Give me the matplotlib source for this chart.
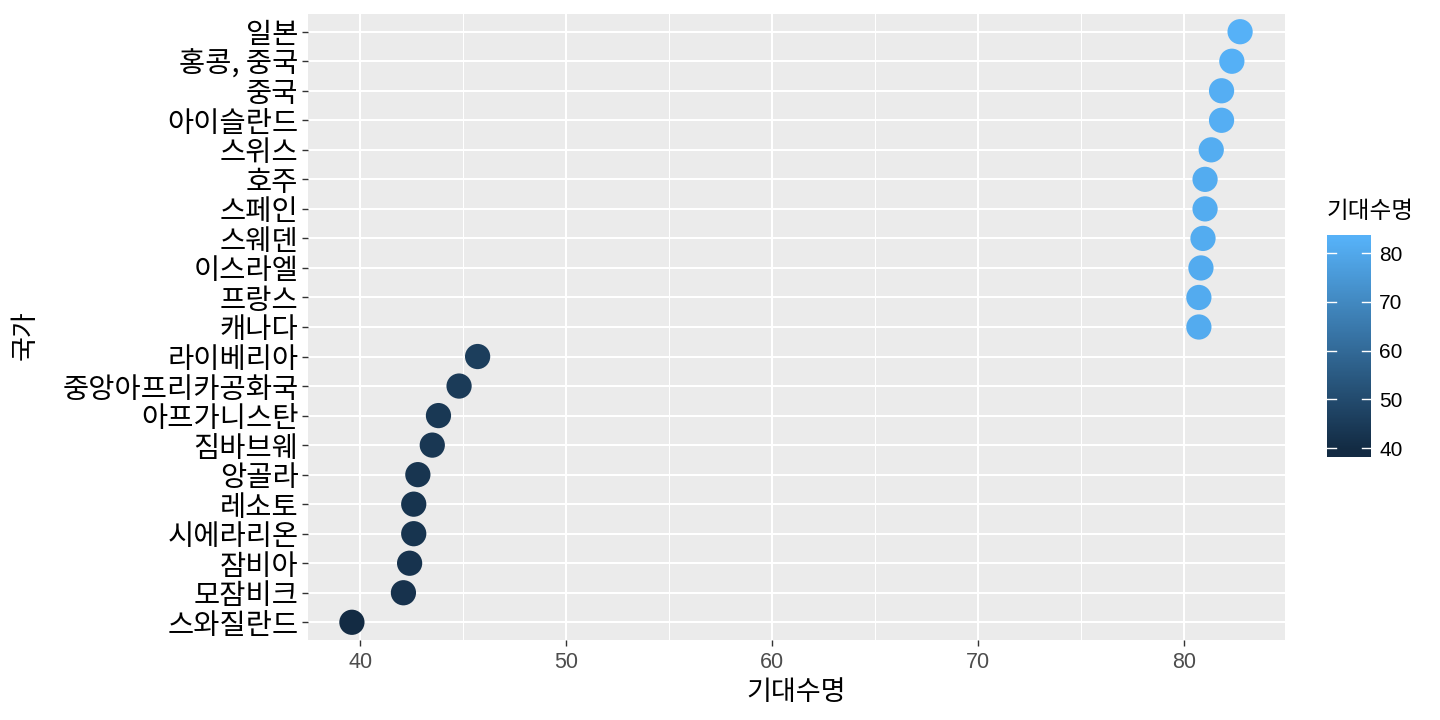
import numpy as np
import matplotlib
matplotlib.use("Agg")
import matplotlib.pyplot as plt
from matplotlib.colors import LinearSegmentedColormap, Normalize
from matplotlib.ticker import MultipleLocator

plt.rcParams['font.family'] = ['Noto Sans CJK KR', 'DejaVu Sans']

# data, top row first
countries = ["일본", "홍콩, 중국", "중국", "아이슬란드", "스위스", "호주", "스페인",
             "스웨덴", "이스라엘", "프랑스", "캐나다", "라이베리아", "중앙아프리카공화국",
             "아프가니스탄", "짐바브웨", "앙골라", "레소토", "시에라리온", "잠비아",
             "모잠비크", "스와질란드"]
life_exp = [82.7, 82.3, 81.8, 81.8, 81.3, 81.0, 81.0, 80.9, 80.8, 80.7, 80.7,
            45.7, 44.8, 43.8, 43.5, 42.8, 42.6, 42.6, 42.4, 42.1, 39.6]
x_ticks = [40, 50, 60, 70, 80]
legend_ticks = [40, 50, 60, 70, 80]

cmap = LinearSegmentedColormap.from_list("gg", ["#132B43", "#56B1F7"])
lo, hi = min(life_exp), max(life_exp)
norm = Normalize(lo, hi)

fig = plt.figure(figsize=(14.4, 7.2), dpi=100)
W, H = 1440, 720
ax = fig.add_axes([307.5 / W, 1 - 640 / H, (1284.5 - 307.5) / W, (640 - 14) / H])
ax.set_facecolor("#EBEBEB")

n = len(countries)
ypos = np.arange(n)[::-1]
ax.scatter(life_exp, ypos, s=330, c=[cmap(norm(v)) for v in life_exp],
           edgecolors="none", zorder=3)

pad = (hi - lo) * 0.05
ax.set_xlim(lo - pad, hi + pad)
ax.set_ylim(-0.6, n - 1 + 0.6)
ax.set_xticks(x_ticks)
ax.xaxis.set_minor_locator(MultipleLocator(5))
ax.set_yticks(ypos)
ax.set_yticklabels(countries)

ax.grid(which="major", color="white", linewidth=1.5, zorder=0)
ax.grid(which="minor", axis="x", color="white", linewidth=0.75, zorder=0)
ax.set_axisbelow(True)
for s in ax.spines.values():
    s.set_visible(False)
ax.tick_params(which="major", length=4.5, width=1.0, color="#333333")
ax.tick_params(which="minor", length=0)
ax.tick_params(axis="x", labelsize=15.5, labelcolor="#4D4D4D", pad=4)
ax.tick_params(axis="y", labelsize=20.5, labelcolor="black", pad=2)
for t in ax.get_xticklabels():
    t.set_family("Liberation Sans")

fig.text(796 / W, 1 - 693 / H, "기대수명", fontsize=19.5, ha="center", va="center")
fig.text(25 / W, 1 - 335 / H, "국가", fontsize=19.5, rotation=90,
         ha="center", va="center")

# colour bar legend
cax = fig.add_axes([1327 / W, 1 - 457 / H, 44 / W, (457 - 235) / H])
c_lo, c_hi = 38.2, 83.7
grad = np.linspace(c_lo, c_hi, 300).reshape(-1, 1)
cax.imshow(grad, aspect="auto", origin="lower", cmap=cmap, norm=norm,
           extent=[0, 1, c_lo, c_hi])
cax.set_xlim(0, 1)
cax.set_ylim(c_lo, c_hi)
for v in legend_ticks:
    cax.plot([0, 0.2], [v, v], color="white", linewidth=1.0)
    cax.plot([0.8, 1], [v, v], color="white", linewidth=1.0)
cax.set_xticks([])
cax.yaxis.tick_right()
cax.set_yticks(legend_ticks)
cax.tick_params(axis="y", length=0, labelsize=15, pad=6)
for t in cax.get_yticklabels():
    t.set_family("Liberation Sans")
for s in cax.spines.values():
    s.set_visible(False)
fig.text(1327 / W, 1 - 211 / H, "기대수명", fontsize=17, va="center", ha="left")

fig.savefig("out.png", dpi=100)
